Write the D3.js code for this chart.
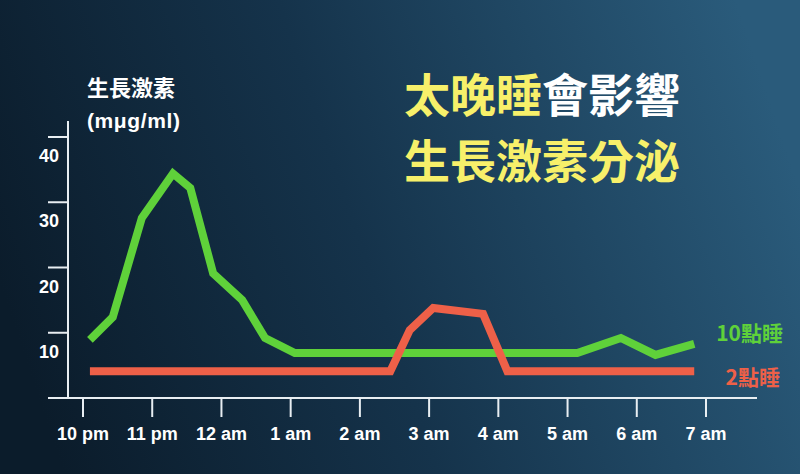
<!DOCTYPE html>
<html>
<head>
<meta charset="utf-8">
<script src="https://cdn.jsdelivr.net/npm/d3@7"></script>
<style>
  body { margin: 0; background: #0c1e2e; }
  svg { display: block; }
  text { font-family: "Liberation Sans", Arial, "Noto Sans CJK TC", sans-serif; font-weight: bold; fill: #fff; }
  .cjk { font-family: "Noto Sans CJK TC", "Noto Sans CJK SC", sans-serif; }
</style>
</head>
<body>
<svg id="chart" width="800" height="474"></svg>
<script>
// hours after 10 pm, growth hormone (mμg/ml)
var early_hours = [0.1, 0.43, 0.85, 1.3, 1.55, 1.88, 2.3, 2.63, 3.06, 7.14, 7.77, 8.27, 8.83];
var early_values = [8.9, 12.4, 27.6, 34.4, 32.2, 19.1, 15, 9.2, 6.9, 6.9, 9.2, 6.6, 8.3];

var late_hours = [0.1, 4.44, 4.72, 5.06, 5.78, 6.13, 8.83];
var late_values = [4.1, 4.1, 10.4, 13.8, 12.9, 4.1, 4.1];

var xTickLabels = ["10 pm", "11 pm", "12 am", "1 am", "2 am", "3 am", "4 am", "5 am", "6 am", "7 am"];
var yTickValues = [10, 20, 30, 40];

var svg = d3.select("#chart");

var defs = svg.append("defs");
var grad = defs.append("linearGradient")
    .attr("id", "bg")
    .attr("x1", "0%").attr("y1", "60%")
    .attr("x2", "100%").attr("y2", "40%");
grad.append("stop").attr("offset", "0%").attr("stop-color", "#0b1c2b");
grad.append("stop").attr("offset", "45%").attr("stop-color", "#15334b");
grad.append("stop").attr("offset", "100%").attr("stop-color", "#2a5b7b");

svg.append("rect")
    .attr("width", 800)
    .attr("height", 474)
    .attr("fill", "url(#bg)");

var x = d3.scaleLinear().domain([0, 9]).range([83, 706]);
var y = d3.scaleLinear().domain([0, 40]).range([398, 137]);

var axisColor = "#e8eef2";

// y axis
svg.append("line")
    .attr("x1", 68).attr("x2", 68)
    .attr("y1", 121).attr("y2", 398)
    .attr("stroke", axisColor).attr("stroke-width", 2);

var yt = svg.append("g").selectAll("g")
    .data(yTickValues)
    .enter().append("g");

yt.append("line")
    .attr("x1", 48).attr("x2", 68)
    .attr("y1", function(d) { return y(d); })
    .attr("y2", function(d) { return y(d); })
    .attr("stroke", axisColor).attr("stroke-width", 2);

yt.append("text")
    .attr("x", 49)
    .attr("y", function(d) { return y(d) + 25; })
    .attr("text-anchor", "middle")
    .attr("font-size", 18)
    .text(function(d) { return d; });

// x axis
svg.append("line")
    .attr("x1", 48).attr("x2", 757)
    .attr("y1", 398).attr("y2", 398)
    .attr("stroke", axisColor).attr("stroke-width", 2);

var xt = svg.append("g").selectAll("g")
    .data(xTickLabels)
    .enter().append("g");

xt.append("line")
    .attr("x1", function(d, i) { return x(i); })
    .attr("x2", function(d, i) { return x(i); })
    .attr("y1", 398).attr("y2", 417)
    .attr("stroke", axisColor).attr("stroke-width", 2);

xt.append("text")
    .attr("x", function(d, i) { return x(i); })
    .attr("y", 440)
    .attr("text-anchor", "middle")
    .attr("font-size", 18)
    .text(function(d) { return d; });

// lines
var line = d3.line()
    .x(function(d) { return x(d[0]); })
    .y(function(d) { return y(d[1]); });

svg.append("path")
    .datum(d3.zip(early_hours, early_values))
    .attr("d", line)
    .attr("fill", "none")
    .attr("stroke", "#5fd13a")
    .attr("stroke-width", 8);

svg.append("path")
    .datum(d3.zip(late_hours, late_values))
    .attr("d", line)
    .attr("fill", "none")
    .attr("stroke", "#ee6048")
    .attr("stroke-width", 8);

// legend labels
svg.append("text")
    .attr("class", "cjk")
    .attr("x", 783).attr("y", 341)
    .attr("text-anchor", "end")
    .attr("font-size", 21)
    .style("fill", "#5fd13a")
    .text("10點睡");

svg.append("text")
    .attr("class", "cjk")
    .attr("x", 780).attr("y", 385)
    .attr("text-anchor", "end")
    .attr("font-size", 21)
    .style("fill", "#ee6048")
    .text("2點睡");

// y label
svg.append("text")
    .attr("class", "cjk")
    .attr("x", 87).attr("y", 96)
    .attr("font-size", 22)
    .text("生長激素");

svg.append("text")
    .attr("x", 87).attr("y", 128)
    .attr("font-size", 21)
    .attr("letter-spacing", 0.6)
    .text("(mμg/ml)");

// title
var t1 = svg.append("text")
    .attr("class", "cjk")
    .attr("x", 404).attr("y", 112)
    .attr("font-size", 46);
t1.append("tspan").style("fill", "#f7f06a").text("太晚睡");
t1.append("tspan").style("fill", "#ffffff").text("會影響");

svg.append("text")
    .attr("class", "cjk")
    .attr("x", 404).attr("y", 178)
    .attr("font-size", 46)
    .style("fill", "#f7f06a")
    .text("生長激素分泌");
</script>
</body>
</html>
